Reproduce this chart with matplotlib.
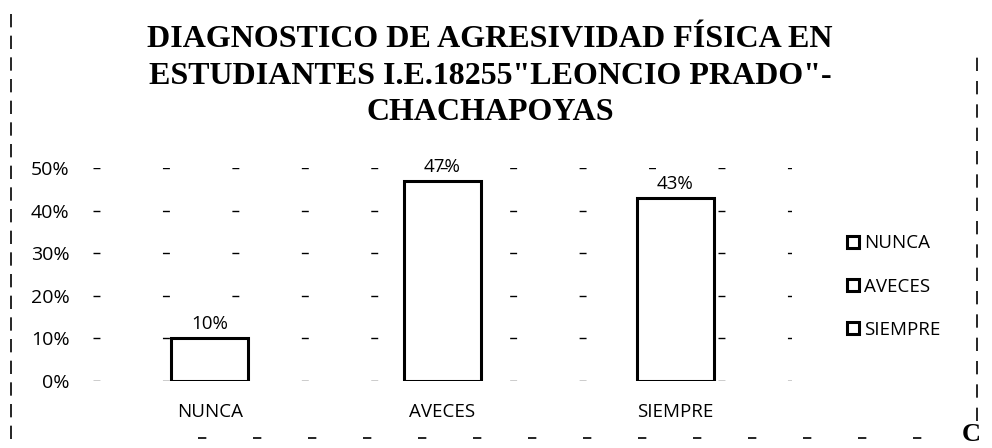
import matplotlib.pyplot as plt
from matplotlib.lines import Line2D

categorias = ['NUNCA', 'AVECES', 'SIEMPRE']
porcentajes = [0.10, 0.47, 0.43]
etiquetas = ['10%', '47%', '43%']
ticks_y = [0, 0.1, 0.2, 0.3, 0.4, 0.5]

titulo = 'DIAGNOSTICO DE AGRESIVIDAD FÍSICA EN\nESTUDIANTES I.E.18255"LEONCIO PRADO"-\nCHACHAPOYAS'

fig = plt.figure(figsize=(9.92, 4.48), dpi=100)
ax = fig.add_axes([0.094, 0.1496, 0.704, 0.4754])

x = range(len(categorias))
barras = ax.bar(x, porcentajes, width=0.33, color='white', edgecolor='black', linewidth=2.2)
for b, lab in zip(barras, etiquetas):
    ax.text(b.get_x() + b.get_width() / 2, b.get_height() + 0.012, lab,
            ha='center', va='bottom', fontsize=13.5, family='Open Sans')

ax.set_xlim(-0.5, 2.5)
ax.set_ylim(0, 0.5)
ax.set_yticks(ticks_y)
ax.set_yticklabels([f'{int(round(t * 100))}%' for t in ticks_y], family='Open Sans', fontsize=14)
ax.set_xticks(list(x))
ax.set_xticklabels(categorias, family='Open Sans', fontsize=13.5)
ax.tick_params(axis='y', length=0, pad=17)
ax.tick_params(axis='x', length=0, pad=16)
for s in ax.spines.values():
    s.set_visible(False)
ax.yaxis.grid(True, color='black', linestyle=(0, (5, 45)), linewidth=1.0)
ax.set_axisbelow(True)

# leyenda
handles = [Line2D([], [], marker='s', linestyle='', markersize=8, markerfacecolor='white',
                  markeredgecolor='black', markeredgewidth=2.2) for _ in categorias]
fig.legend(handles, categorias, loc='center left', bbox_to_anchor=(0.835, 0.36), frameon=False,
           prop={'family': 'Open Sans', 'size': 13.5}, handletextpad=0.2, labelspacing=1.35,
           handlelength=0.8)

fig.suptitle(titulo, x=0.494, y=0.945, fontsize=23, fontweight='bold',
             family='Liberation Serif', linespacing=1.36)

# bordes del recuadro escaneado
fig.add_artist(Line2D([0.011, 0.011], [0.02, 0.98], color='black', linewidth=1.2,
                      linestyle=(0, (8, 5)), transform=fig.transFigure))
fig.add_artist(Line2D([0.985, 0.985], [0.06, 0.88], color='black', linewidth=1.2,
                      linestyle=(0, (8, 6)), transform=fig.transFigure))
fig.add_artist(Line2D([0.2, 0.97], [0.022, 0.022], color='black', linewidth=1.2,
                      linestyle=(0, (5, 28)), transform=fig.transFigure))
fig.text(0.97, 0.005, 'C', fontsize=19, fontweight='bold', family='Liberation Serif',
         ha='left', va='bottom')

fig.savefig('out.png', dpi=100)
